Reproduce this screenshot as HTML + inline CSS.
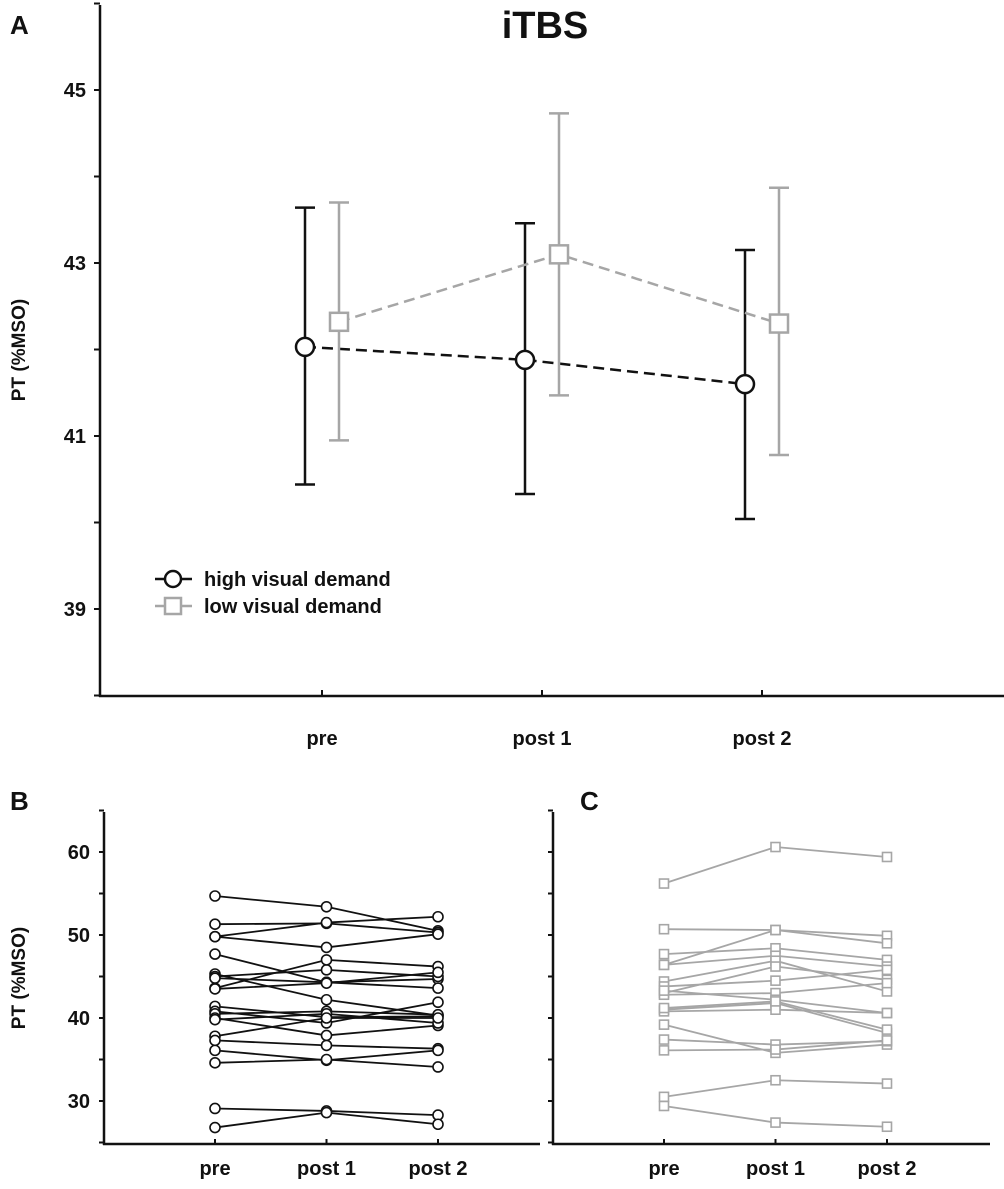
<!DOCTYPE html>
<html><head><meta charset="utf-8"><style>
html,body{margin:0;padding:0;background:#fff;}
svg text{font-family:"Liberation Sans",Arial,sans-serif;font-weight:bold;}
</style></head><body>
<svg id="fig" width="1004" height="1184" viewBox="0 0 1004 1184" xmlns="http://www.w3.org/2000/svg"></svg>
<script>
// Panel A data
const catsA = ["pre","post 1","post 2"];
const highMean = [42.03, 41.88, 41.6];
const highLo = [40.44, 40.33, 40.04];
const highHi = [43.64, 43.46, 43.15];
const lowMean = [42.32, 43.1, 42.3];
const lowLo = [40.95, 41.47, 40.78];
const lowHi = [43.7, 44.73, 43.87];
const ticksA = [39, 41, 43, 45];
// Panel B (high visual demand) subjects: pre, post1, post2
const subjHigh = [
 [54.7,53.4,50.5],[51.3,51.4,50.3],[49.8,51.5,52.2],[49.8,48.5,50.1],
 [47.7,44.3,44.7],[45.3,42.2,40.3],[45.0,45.8,45.0],[44.8,44.3,43.6],
 [43.6,47.0,46.2],[43.5,44.2,45.5],[41.4,40.1,40.2],[40.8,39.4,41.9],
 [40.5,40.8,40.4],[40.0,37.9,39.1],[39.8,40.5,39.4],[37.8,40.0,40.0],
 [37.3,36.7,36.3],[36.1,34.9,36.1],[34.6,35.0,34.1],[29.1,28.8,28.3],[26.8,28.6,27.2]
];
// Panel C (low visual demand)
const subjLow = [
 [56.2,60.6,59.4],[50.7,50.6,49.9],[46.4,50.6,49.0],[47.7,48.4,47.0],
 [46.4,47.5,46.2],[44.4,46.9,43.2],[43.0,46.2,44.6],[43.8,44.5,45.8],
 [42.8,43.0,44.2],[43.3,42.2,40.6],[41.0,41.8,38.2],[40.8,41.0,40.6],
 [41.2,42.0,38.6],[39.2,35.8,36.8],[37.4,36.8,37.2],[36.1,36.2,37.3],
 [30.5,32.5,32.1],[29.4,27.4,26.9]
];
const ticksB = [30, 40, 50, 60];

const NS="http://www.w3.org/2000/svg";
const svg=document.getElementById('fig');
function mk(tag, attrs, parent){const e=document.createElementNS(NS,tag);for(const k in attrs)e.setAttribute(k,attrs[k]);(parent||svg).appendChild(e);return e;}
function txt(x,y,s,size,anchor,fill){const t=mk('text',{x:x,y:y,'font-size':size,'text-anchor':anchor||'middle',fill:fill||'#111'});t.textContent=s;return t;}

// ---- Panel A ----
const yA = v => 263 - (v-43)*86.5;
const xA = i => 322 + i*220;
let e;
e=mk('line',{x1:100,y1:5,x2:100,y2:697,stroke:'#111','stroke-width':2.5});

e=mk('line',{x1:99,y1:696,x2:1004,y2:696,stroke:'#111','stroke-width':2.5});

for(let v=38; v<=46; v++){ mk('line',{x1:94,y1:yA(v),x2:100,y2:yA(v),stroke:'#111','stroke-width':2}); }
ticksA.forEach(v=>{e=txt(86,yA(v)+7,String(v),20,'end');
});
catsA.forEach((c,i)=>{mk('line',{x1:xA(i),y1:690,x2:xA(i),y2:696,stroke:'#111','stroke-width':2});
e=txt(xA(i),745,c,20);});
e=txt(10,34,'A',26,'start');
e=txt(545,38,'iTBS',38);
e=txt(0,0,'PT (%MSO)',19);e.setAttribute('transform','translate(25,350) rotate(-90)');


function series(mean,lo,hi,off,color,isSq,name){
  const pts=mean.map((v,i)=>(xA(i)+off)+','+yA(v)).join(' ');
  e=mk('polyline',{points:pts,fill:'none',stroke:color,'stroke-width':2.5,'stroke-dasharray':'11,6'});
  
  mean.forEach((v,i)=>{const x=xA(i)+off;
    e=mk('line',{x1:x,y1:yA(hi[i]),x2:x,y2:yA(lo[i]),stroke:color,'stroke-width':2.5});
    
    mk('line',{x1:x-10,y1:yA(hi[i]),x2:x+10,y2:yA(hi[i]),stroke:color,'stroke-width':2.5});
    mk('line',{x1:x-10,y1:yA(lo[i]),x2:x+10,y2:yA(lo[i]),stroke:color,'stroke-width':2.5});
    if(isSq){e=mk('rect',{x:x-9,y:yA(v)-9,width:18,height:18,fill:'#fff',stroke:color,'stroke-width':2.5});}
    else{e=mk('circle',{cx:x,cy:yA(v),r:9,fill:'#fff',stroke:color,'stroke-width':2.5});}
    
  });
}
series(highMean,highLo,highHi,-17,'#111',false,'high-demand');
series(lowMean,lowLo,lowHi,17,'#a6a6a6',true,'low-demand');
// legend
e=mk('line',{x1:155,y1:579,x2:192,y2:579,stroke:'#111','stroke-width':2.5});

mk('circle',{cx:173,cy:579,r:8,fill:'#fff',stroke:'#111','stroke-width':2.5});
e=txt(204,586,'high visual demand',20,'start');
e=mk('line',{x1:155,y1:606,x2:192,y2:606,stroke:'#a6a6a6','stroke-width':2.5});

mk('rect',{x:165,y:598,width:16,height:16,fill:'#fff',stroke:'#a6a6a6','stroke-width':2.5});
e=txt(204,613,'low visual demand',20,'start');

// ---- Panels B & C ----
const yB = v => 1018 - (v-40)*8.3;
function panel(left,right,data,color,isSq,letter,name,showLabels){
  const xB = i => left+111+i*111.5;
  e=mk('line',{x1:left,y1:812,x2:left,y2:1145,stroke:'#111','stroke-width':2.5});
  
  e=mk('line',{x1:left-1,y1:1144,x2:right,y2:1144,stroke:'#111','stroke-width':2.5});
  
  for(let v=25; v<=65; v+=5){ mk('line',{x1:left-5,y1:yB(v),x2:left,y2:yB(v),stroke:'#111','stroke-width':2}); }
  if(showLabels){ ticksB.forEach(v=>{e=txt(left-14,yB(v)+7,String(v),20,'end');
    }); }
  catsA.forEach((c,i)=>{mk('line',{x1:xB(i),y1:1139,x2:xB(i),y2:1144,stroke:'#111','stroke-width':2});
    e=txt(xB(i),1175,c,20);});
  e=txt(letter==='B'?10:580,letter==='B'?810:810,letter,26,'start');
  
  data.forEach(row=>{
    e=mk('polyline',{points:row.map((v,i)=>xB(i)+','+yB(v)).join(' '),fill:'none',stroke:color,'stroke-width':1.8});
    
  });
  data.forEach(row=>{row.forEach((v,i)=>{
    if(isSq) e=mk('rect',{x:xB(i)-4.5,y:yB(v)-4.5,width:9,height:9,fill:'#fff',stroke:color,'stroke-width':1.6});
    else e=mk('circle',{cx:xB(i),cy:yB(v),r:5,fill:'#fff',stroke:color,'stroke-width':1.6});
    
  });});
}
panel(104,540,subjHigh,'#111',false,'B','panel-b',true);
panel(553,990,subjLow,'#a6a6a6',true,'C','panel-c',false);
e=txt(0,0,'PT (%MSO)',19);e.setAttribute('transform','translate(25,978) rotate(-90)');

</script>
</body></html>
